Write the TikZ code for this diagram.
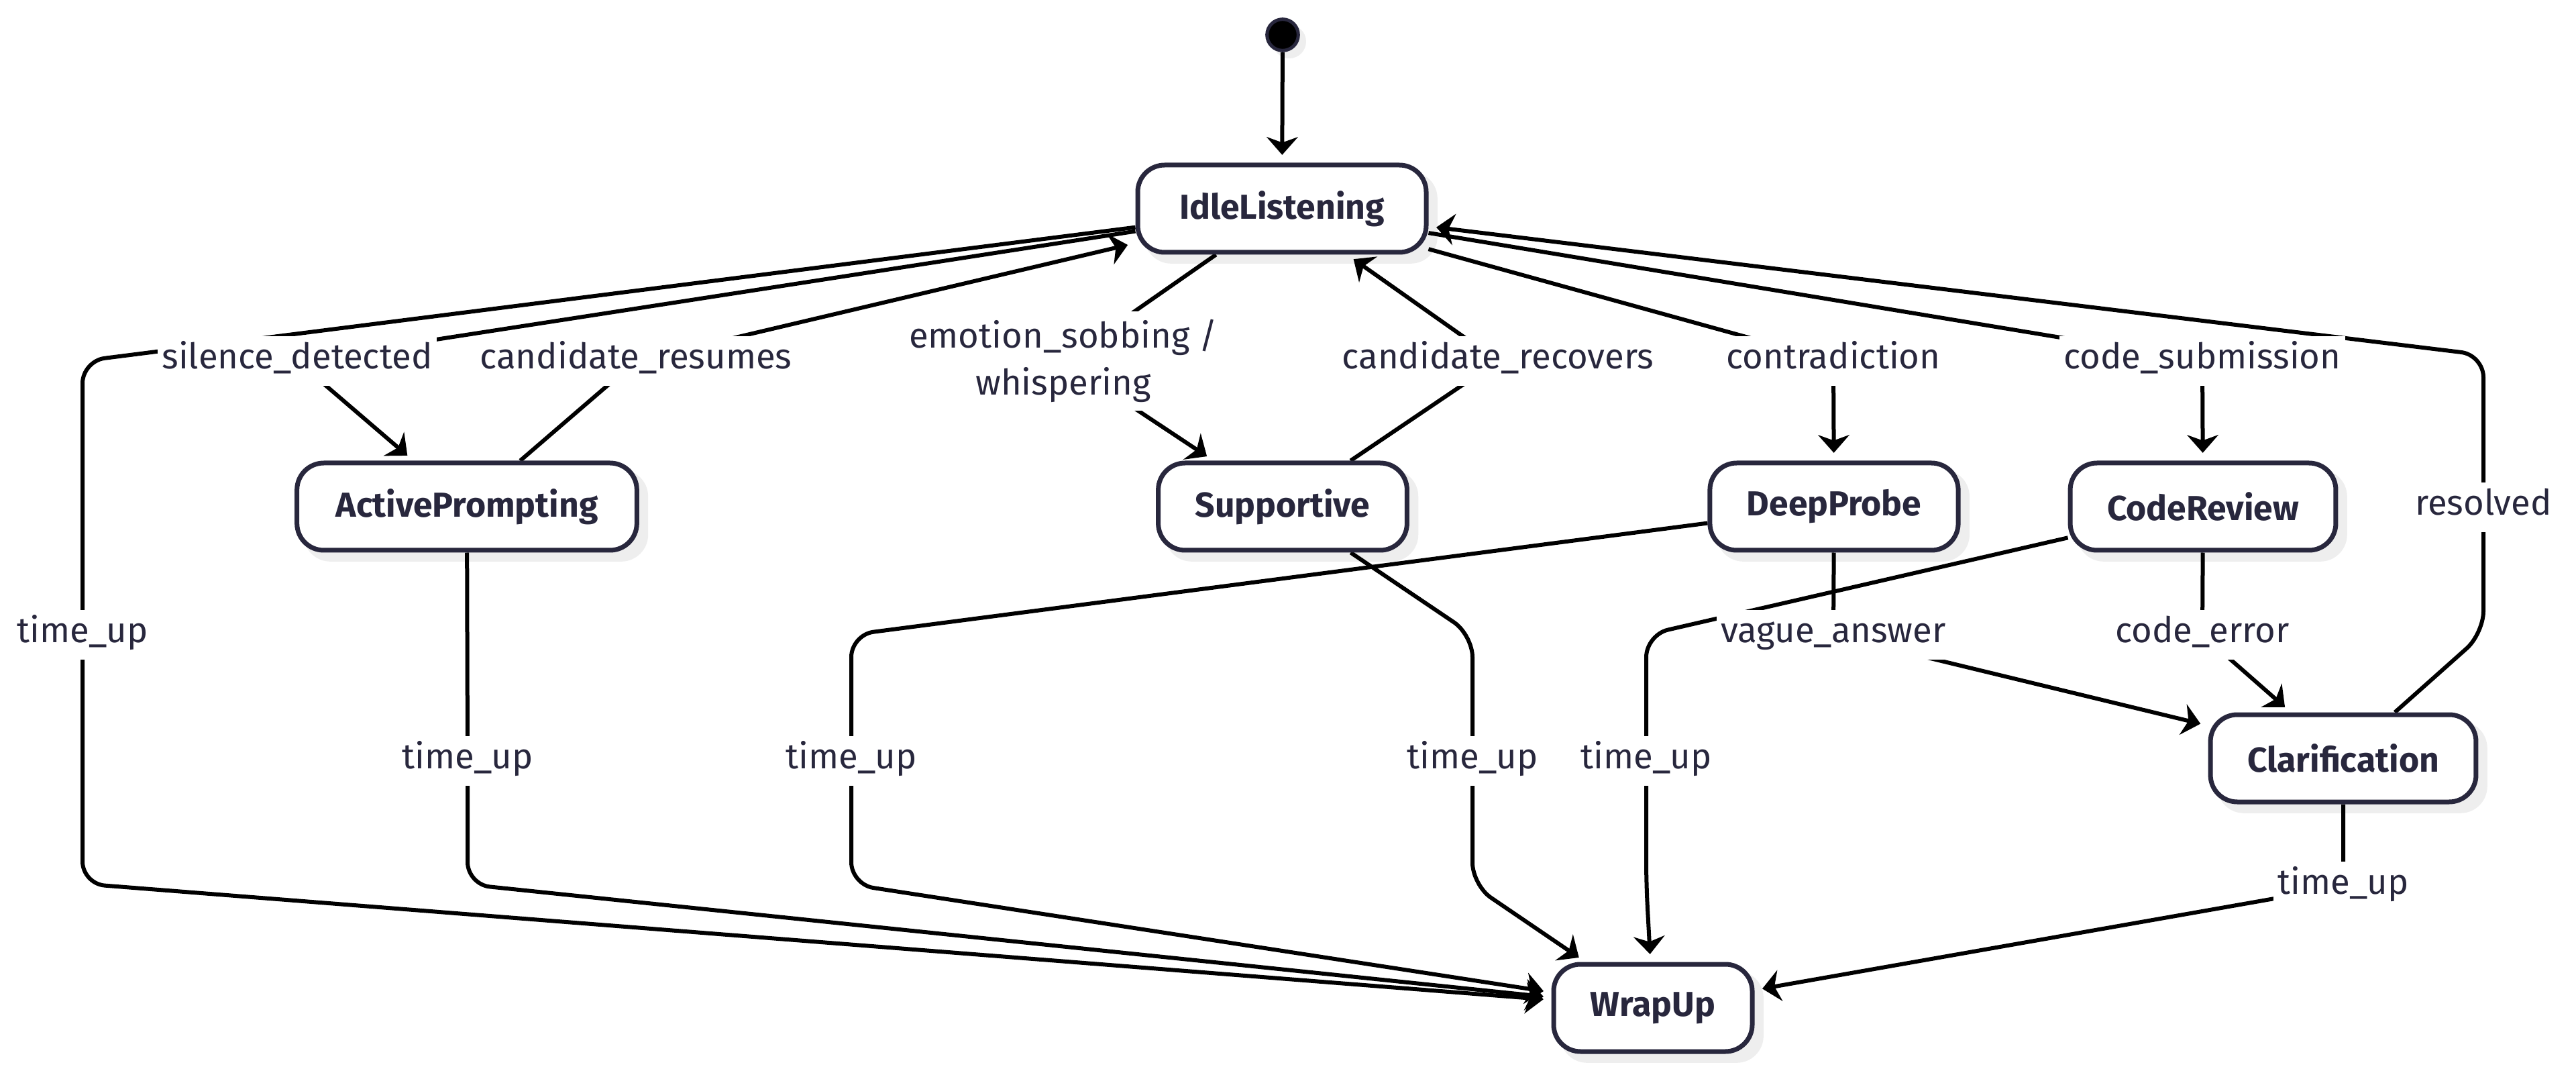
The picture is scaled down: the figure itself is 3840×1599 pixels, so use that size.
\documentclass[tikz,border=0pt]{standalone}
\usepackage{fontspec}
\setmainfont{Fira Sans}
\usepackage{xcolor}
\usetikzlibrary{arrows.meta}
\definecolor{ink}{HTML}{28273D}
\definecolor{shadowgray}{HTML}{EEEEEE}
\pgfdeclarelayer{shadows}
\pgfdeclarelayer{edges}
\pgfsetlayers{shadows,edges,main}
\newcommand{\statefont}{\fontsize{15.5}{18}\selectfont\bfseries}
\newcommand{\labfont}{\fontsize{15.8}{21}\selectfont}
\tikzset{
  statebox/.style={draw=ink, line width=2.1pt, fill=white, rounded corners=12pt,
    minimum height=39pt, inner xsep=16.5pt, text=ink, font=\statefont},
  lbl/.style={fill=white, text=ink, font=\labfont, inner xsep=2pt, inner ysep=3.5pt},
  lbla/.style={lbl, text height=11pt, text depth=4pt},
  tr/.style={line width=1.8pt, rounded corners=10pt,
    -{Stealth[length=8pt,width=14pt,inset=2.5pt]}, shorten >=3.5pt},
}
\begin{document}
\begin{tikzpicture}[x=0.3pt,y=-0.3pt]
\useasboundingbox (0,0) rectangle (3840,1599);

% states
\node[circle, fill=black, draw=ink, line width=1.5pt, minimum size=14pt, inner sep=0pt] (init) at (1912,52) {};
\node[statebox, minimum width=129pt] (idle) at (1911,311) {IdleListening};
\node[statebox, minimum width=152pt] (active) at (696,755) {ActivePrompting};
\node[statebox] (supp) at (1912,755) {Supportive};
\node[statebox] (deep) at (2734,755) {DeepProbe};
\node[statebox] (code) at (3284,755) {CodeReview};
\node[statebox] (clar) at (3493,1130) {Clarification};
\node[statebox] (wrap) at (2464,1502) {WrapUp};

% transition labels
\node[lbla] (lsil) at (443,538) {silence\_detected};
\node[lbla] (lcres) at (948,538) {candidate\_resumes};
\node[lbl, align=center] (lemo) at (1585,538) {emotion\_sobbing /\\whispering};
\node[lbla] (lcrec) at (2233,538) {candidate\_recovers};
\node[lbla] (lcontra) at (2733,538) {contradiction};
\node[lbla] (lcsub) at (3283,538) {code\_submission};
\node[lbla] (lres) at (3702,756) {resolved};
\node[lbla] (lvague) at (2733,946) {vague\_answer};
\node[lbla] (lcerr) at (3283,946) {code\_error};
\foreach \nm/\x/\y in {ltA/123/946, ltB/697/1134, ltC/1269/1134,
    ltD/2195/1134, ltE/2454/1134, ltF/3493/1321} {
  \node[lbla] (\nm) at (\x,\y) {time\_up};
}

% shadows
\begin{pgfonlayer}{shadows}
\foreach \n in {idle,active,supp,deep,code,clar,wrap} {
  \fill[shadowgray, rounded corners=12pt] ([shift={(4pt,-4pt)}]\n.south west)
    rectangle ([shift={(4pt,-4pt)}]\n.north east);
}
\fill[shadowgray] ([shift={(3pt,-3pt)}]init.center) circle (7.5pt);
\end{pgfonlayer}

% transitions
\begin{pgfonlayer}{edges}
\draw[tr] (init) -- (idle);
\draw[tr] (idle) -- (lsil.center) -- (active);
\draw[tr] (active) -- (lcres.center) -- (idle);
\draw[tr] (idle) -- (lemo.center) -- (supp);
\draw[tr] (supp) -- (lcrec.center) -- (idle);
\draw[tr] (idle) -- (lcontra.center) -- (deep);
\draw[tr] (idle) -- (lcsub.center) -- (code);
\draw[tr] (deep) -- (lvague.center) -- (clar);
\draw[tr] (code) -- (lcerr.center) -- (clar);
\draw[tr] (clar) -- (3702,944) -- (lres.center) -- (3702,529) -- (idle);
\draw[tr] (idle) -- (ltA |- lsil) -- (ltA.center) -- (123,1317) -- (wrap);
\draw[tr] (active) -- (ltB.center) -- (697,1318) -- (wrap);
\draw[tr] (deep) -- (ltC |- lvague) -- (ltC.center) -- (1269,1318) -- (wrap);
\draw[tr] (supp) -- (ltD |- lvague) -- (ltD.center) -- (2195,1319) -- (wrap);
\draw[tr] (code) -- (ltE |- lvague) -- (ltE.center) -- (2454,1317) -- (wrap);
\draw[tr] (clar) -- (ltF.center) -- (wrap);
\end{pgfonlayer}
\end{tikzpicture}
\end{document}
